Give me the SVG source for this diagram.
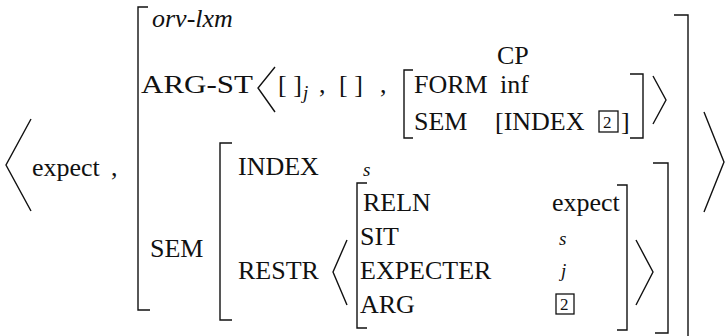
<svg xmlns="http://www.w3.org/2000/svg" width="726" height="336" viewBox="0 0 726 336">
<style>
  text { font-family: "Liberation Serif", "Times New Roman", serif; font-size: 26px; fill: #111; }
  .it { font-style: italic; }
  .sm { font-size: 19px; font-style: italic; }
  .box { font-size: 17px; }
  .br { fill: none; stroke: #111; stroke-width: 1.4; }
  .ang { fill: none; stroke: #111; stroke-width: 1.4; stroke-linejoin: miter; }
  .bx { fill: none; stroke: #111; stroke-width: 1.3; }
</style>
<rect width="726" height="336" fill="#fff"/>

<g id="outer-list">
  <polyline class="ang" points="31,119 6,165 31,211"/>
  <text x="32" y="176">expect</text>
  <text x="111" y="176">,</text>
  <polyline class="ang" points="704,112 724,162 704,212"/>
</g>

<g id="outer-avm">
  <path class="br" d="M148,7 H138 V310 H150"/>
  <path class="br" d="M674,15 H688 V336"/>
  <text class="it" x="152" y="27">orv-lxm</text>
</g>

<g id="arg-st">
  <text x="141" y="93" textLength="112" lengthAdjust="spacingAndGlyphs">ARG-ST</text>
  <polyline class="ang" points="275,67 258,88 275,112"/>
  <text x="278" y="93">[ ]</text>
  <text class="sm" x="303" y="99">j</text>
  <text x="319" y="93">,</text>
  <text x="339" y="93">[ ]</text>
  <text x="380" y="93">,</text>
  <polyline class="ang" points="653,76 666,100 653,124"/>
</g>

<g id="cp">
  <path class="br" d="M413,70 H404 V138 H413"/>
  <path class="br" d="M630,74 H643 V138 H630"/>
  <text x="497" y="64">CP</text>
  <text x="414" y="93">FORM</text>
  <text x="500" y="93">inf</text>
  <text x="414" y="130">SEM</text>
  <text x="495" y="130">[INDEX</text>
  <rect class="bx" x="599" y="111" width="19" height="21"/>
  <text class="box" x="603" y="128">2</text>
  <text x="621" y="130">]</text>
</g>

<g id="sem">
  <text x="150" y="257">SEM</text>
  <path class="br" d="M232,143 H220 V320 H232"/>
  <path class="br" d="M653,163 H668 V333 H655"/>
  <text x="238" y="175">INDEX</text>
  <text class="sm" x="363" y="176">s</text>
  <text x="238" y="279">RESTR</text>
</g>

<g id="restr">
  <polyline class="ang" points="347,240 333,272 347,305"/>
  <path class="br" d="M367,183 H357 V328 H367"/>
  <path class="br" d="M617,185 H627 V330 H617"/>
  <polyline class="ang" points="636,240 653,272 636,305"/>
  <text x="363" y="211">RELN</text>
  <text x="552" y="211">expect</text>
  <text x="360" y="245">SIT</text>
  <text class="sm" x="559" y="245">s</text>
  <text x="360" y="279">EXPECTER</text>
  <text class="sm" x="561" y="277">j</text>
  <text x="360" y="313">ARG</text>
  <rect class="bx" x="556" y="294" width="18" height="20"/>
  <text class="box" x="560" y="310">2</text>
</g>
</svg>
